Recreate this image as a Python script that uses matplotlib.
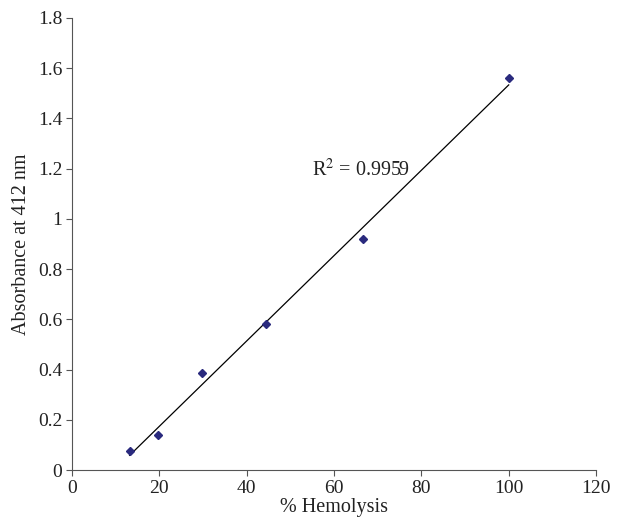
import numpy as np
import matplotlib
matplotlib.use("Agg")
import matplotlib.pyplot as plt

# % hemolysis vs absorbance at 412 nm
hemolysis = [13.2, 19.8, 29.7, 44.5, 66.7, 100.0]
absorbance = [0.075, 0.14, 0.385, 0.58, 0.92, 1.56]
r2_label = "R$^2$ = 0.9959"

plt.rcParams["font.family"] = ["Liberation Serif", "DejaVu Serif"]
plt.rcParams["mathtext.fontset"] = "stix"

fig = plt.figure(figsize=(6.18, 5.27), dpi=100)
ax = fig.add_axes([0.1165, 0.108, 0.848, 0.858])

slope, intercept = np.polyfit(hemolysis, absorbance, 1)
xs = np.array([min(hemolysis), max(hemolysis)])
ax.plot(xs, slope * xs + intercept, color="black", linewidth=0.9)
ax.plot(hemolysis, absorbance, linestyle="none", marker="D", markersize=4,
        color="#2a2a7e")

ax.text(55, 1.195, r2_label, fontsize=14.5, va="center", ha="left", color="#222222")

ax.set_xlim(0, 120)
ax.set_ylim(0, 1.8)
ax.set_xticks(range(0, 121, 20))
ax.set_yticks([0, 0.2, 0.4, 0.6, 0.8, 1, 1.2, 1.4, 1.6, 1.8])
ax.set_yticklabels(["0", "0.2", "0.4", "0.6", "0.8", "1", "1.2", "1.4", "1.6", "1.8"])
ax.spines["top"].set_visible(False)
ax.spines["right"].set_visible(False)
for s in ["left", "bottom"]:
    ax.spines[s].set_color("#555555")
ax.tick_params(direction="out", length=4, color="#555555", labelsize=14,
               labelcolor="#222222", pad=3)
ax.set_xlabel("% Hemolysis", fontsize=14.5, color="#222222", labelpad=1)
ax.set_ylabel("Absorbance at 412 nm", fontsize=14.5, color="#222222", labelpad=5)

fig.savefig("out.png", dpi=100)
